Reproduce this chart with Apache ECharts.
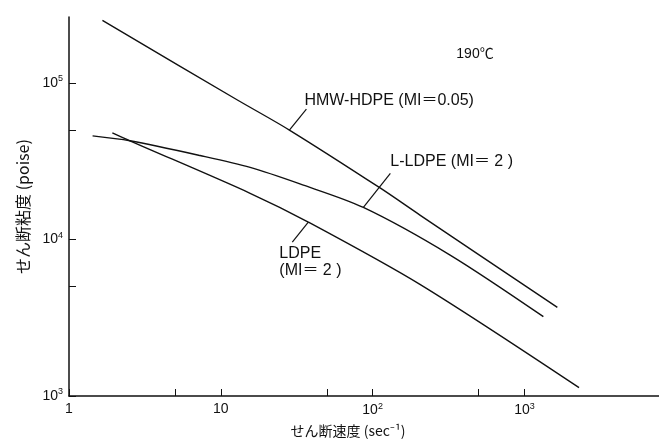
<!DOCTYPE html>
<html>
<head>
<meta charset="utf-8">
<script src="https://cdn.jsdelivr.net/npm/echarts@6/dist/echarts.min.js"></script>
<style>
  html, body { margin: 0; padding: 0; background: #fff; }
  #chart { width: 659px; height: 441px; }
</style>
</head>
<body>
<div id="chart"></div>
<script>
// Shear viscosity vs. shear rate at 190 °C, log-log
const hmwHdpe = [[1.66, 250000], [12.7, 78200], [28.3, 49900], [112, 21300], [205, 14300], [1648, 3680]];
const lLdpe = [[1.43, 45800], [2.52, 42600], [7.3, 34300], [15.6, 28800], [33.2, 22600], [86.9, 16000], [324, 7940], [1333, 3210]];
const ldpe = [[1.93, 47900], [2.52, 42600], [15.6, 19700], [37.7, 12900], [205, 5160], [2290, 1130]];

const xLabelValues = [1, 10, 100, 1000];
const xTickValues = [1, 5, 10, 50, 100, 500, 1000];
const yLabelValues = [1000, 10000, 100000];
const yTickValues = [1000, 5000, 10000, 50000, 100000];

const latinFont = "'Liberation Sans', 'Noto Sans CJK JP', sans-serif";
const cjkFont = "'Noto Sans CJK JP', 'Liberation Sans', sans-serif";

function powLabel(v) {
  const e = Math.round(Math.log10(v));
  if (e === 0) return '{b|1}';
  if (e === 1) return '{b|10}';
  return '{b|10}{s|' + e + '}';
}
const richSup = {
  b: { fontSize: 14, fontFamily: latinFont, color: '#111' },
  s: { fontSize: 9, fontFamily: latinFont, color: '#111', padding: [0, 0, 8, 0] }
};

const chart = echarts.init(document.getElementById('chart'), null, { renderer: 'canvas' });

const lineStyle = { color: '#111', width: 1.4 };
function makeSeries(name, data) {
  return {
    name, type: 'line', data, smooth: 0.3, showSymbol: false,
    lineStyle, silent: true, animation: false
  };
}

chart.setOption({
  animation: false,
  backgroundColor: '#fff',
  grid: { left: 69, right: 0, top: 17, bottom: 45, outerBoundsMode: 'none', containLabel: false },
  xAxis: {
    type: 'log', logBase: 10, min: 1, max: 7700,
    name: 'せん断速度 (sec⁻¹)', nameLocation: 'middle', nameGap: 28,
    nameTextStyle: { fontFamily: cjkFont, fontSize: 14, color: '#111', padding: [0, 32, 0, 0] },
    axisLine: { lineStyle: { color: '#111', width: 1.5 } },
    axisTick: { inside: true, length: 7, customValues: xTickValues, lineStyle: { color: '#111', width: 1 } },
    axisLabel: { customValues: xLabelValues, margin: 6, fontSize: 14, formatter: powLabel, rich: richSup },
    splitLine: { show: false }, minorTick: { show: false }
  },
  yAxis: {
    type: 'log', logBase: 10, min: 1000, max: 263000,
    name: 'せん断粘度 (poise)', nameLocation: 'middle', nameRotate: 90, nameGap: 38,
    nameTextStyle: { fontFamily: cjkFont, fontSize: 16, color: '#111' },
    axisLine: { lineStyle: { color: '#111', width: 1.5 } },
    axisTick: { inside: true, length: 7, customValues: yTickValues, lineStyle: { color: '#111', width: 1 } },
    axisLabel: { customValues: yLabelValues, margin: 6, fontSize: 14, formatter: powLabel, rich: richSup },
    splitLine: { show: false }, minorTick: { show: false }
  },
  series: [
    makeSeries('HMW-HDPE', hmwHdpe),
    makeSeries('L-LDPE', lLdpe),
    makeSeries('LDPE', ldpe)
  ]
});

// Curve annotations: leader anchored on a curve point, label placed off the end of the leader
const annotations = [
  { anchor: hmwHdpe[2], dx: 17, dy: -21, lines: ['HMW-HDPE (MI＝0.05)'], tx: -2, ty: -17 },
  { anchor: lLdpe[5], dx: 27, dy: -34, lines: ['L-LDPE (MI＝ 2 )'], tx: 0, ty: -20 },
  { anchor: ldpe[3], dx: -16, dy: 20, lines: ['LDPE', '(MI＝ 2 )'], tx: -13, ty: 3 }
];

const graphics = [];
annotations.forEach(a => {
  const p = chart.convertToPixel({ gridIndex: 0 }, a.anchor);
  const q = [p[0] + a.dx, p[1] + a.dy];
  graphics.push({
    type: 'line', silent: true,
    shape: { x1: p[0], y1: p[1], x2: q[0], y2: q[1] },
    style: { stroke: '#111', lineWidth: 1.2 }
  });
  graphics.push({
    type: 'text', silent: true,
    x: q[0] + a.tx, y: q[1] + a.ty,
    style: {
      text: a.lines.join('\n'), fill: '#111', font: '16px ' + latinFont,
      textAlign: 'left', textVerticalAlign: 'top', lineHeight: 17
    }
  });
});
graphics.push({
  type: 'text', silent: true, x: 475, y: 54,
  style: { text: '190℃', fill: '#111', font: '14px ' + latinFont, textAlign: 'center', textVerticalAlign: 'middle' }
});
chart.setOption({ graphic: graphics });
</script>
</body>
</html>
